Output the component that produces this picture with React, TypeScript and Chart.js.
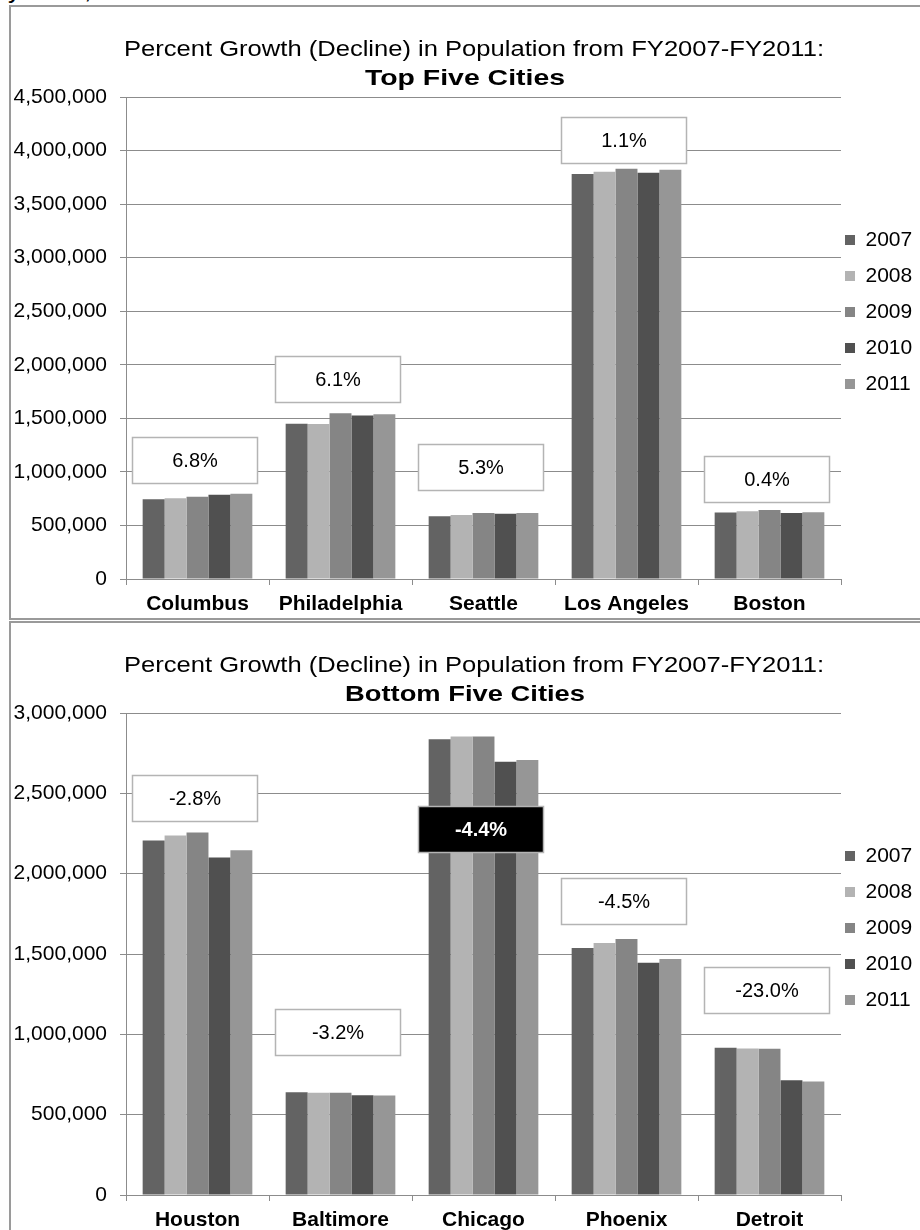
import React, { useEffect, useRef } from 'react';
import { Chart, registerables } from 'chart.js';

Chart.register(...registerables);

const FONT = "'Liberation Sans', Arial, sans-serif";
const GRID = '#8c8c8c';

const years = ['2007', '2008', '2009', '2010', '2011'];
const seriesColors = ['#636363', '#b3b3b3', '#858585', '#505050', '#969696'];

// Top five cities
const topCities = ['Columbus', 'Philadelphia', 'Seattle', 'Los Angeles', 'Boston'];
const top2007 = [745000, 1449000, 586000, 3780000, 620000];
const top2008 = [754000, 1447000, 598000, 3803000, 633000];
const top2009 = [769000, 1547000, 617000, 3831000, 645000];
const top2010 = [787000, 1526000, 609000, 3793000, 617000];
const top2011 = [797000, 1537000, 617000, 3820000, 623000];
const topGrowth = ['6.8%', '6.1%', '5.3%', '1.1%', '0.4%'];
const topGrowthLevel = [1111000, 1863000, 1050000, 4100000, 930000];
const topMax = 4500000;

// Bottom five cities
const bottomCities = ['Houston', 'Baltimore', 'Chicago', 'Phoenix', 'Detroit'];
const bottom2007 = [2207000, 640000, 2836000, 1538000, 917000];
const bottom2008 = [2238000, 637000, 2853000, 1568000, 912000];
const bottom2009 = [2257000, 637000, 2853000, 1593000, 910000];
const bottom2010 = [2100000, 621000, 2696000, 1446000, 714000];
const bottom2011 = [2145000, 619000, 2708000, 1469000, 706000];
const bottomGrowth = ['-2.8%', '-3.2%', '-4.4%', '-4.5%', '-23.0%'];
const bottomGrowthLevel = [2471000, 1014000, 2275000, 1830000, 1276000];
const bottomHighlight = 2;
const bottomMax = 3000000;

const titleLine1 = 'Percent Growth (Decline) in Population from FY2007-FY2011:';

const titlePlugin = {
  id: 'twoLineTitle',
  afterDraw(chart: any, _args: any, opts: any) {
    const ctx = chart.ctx;
    (opts.lines || []).forEach((line: any) => {
      ctx.save();
      ctx.font = `${line.bold ? 'bold ' : ''}${line.size}px ${FONT}`;
      const w = ctx.measureText(line.text).width;
      const sx = line.width ? line.width / w : 1;
      ctx.translate(line.x, line.y);
      ctx.scale(sx, 1);
      ctx.textAlign = 'center';
      ctx.textBaseline = 'middle';
      ctx.fillStyle = '#000';
      ctx.fillText(line.text, 0, 0);
      ctx.restore();
    });
  },
};

const boxPlugin = {
  id: 'growthBoxes',
  afterDatasetsDraw(chart: any, _args: any, opts: any) {
    const { ctx } = chart;
    const xs = chart.scales.x;
    const ys = chart.scales.y;
    const bw = 125;
    const bh = 46;
    (opts.labels || []).forEach((txt: string, i: number) => {
      const cx = xs.getPixelForValue(i) - 3;
      const cy = ys.getPixelForValue(opts.levels[i]);
      const hi = i === opts.highlight;
      const l = Math.round(cx - bw / 2) + 0.5;
      const t = Math.round(cy - bh / 2) + 0.5;
      ctx.save();
      ctx.fillStyle = hi ? '#000000' : '#ffffff';
      ctx.fillRect(l, t, bw, bh);
      ctx.strokeStyle = '#b4b4b4';
      ctx.lineWidth = 1.5;
      ctx.strokeRect(l, t, bw, bh);
      ctx.fillStyle = hi ? '#ffffff' : '#000000';
      ctx.font = `${hi ? 'bold ' : ''}20px ${FONT}`;
      ctx.textAlign = 'center';
      ctx.textBaseline = 'middle';
      ctx.fillText(txt, l + bw / 2, t + bh / 2 + 1);
      ctx.restore();
    });
  },
};

const LEGEND_PAD = 15;
const LEGEND_BOX_LEFT = 834;
const LEGEND_TOP = 207.5;

const legendShift = {
  id: 'legendShift',
  afterLayout(chart: any) {
    const lg = chart.legend;
    if (!lg) return;
    lg.left = LEGEND_BOX_LEFT - LEGEND_PAD;
    lg.right = chart.width;
    lg.top = LEGEND_TOP;
  },
};

type Props = {
  cities: string[];
  series: number[][];
  max: number;
  subtitle: string;
  subtitleWidth: number;
  growth: string[];
  levels: number[];
  highlight: number;
};

function BarPanel(p: Props) {
  const ref = useRef<HTMLCanvasElement | null>(null);
  useEffect(() => {
    if (!ref.current) return;
    const chart = new Chart(ref.current, {
      type: 'bar',
      data: {
        labels: p.cities,
        datasets: years.map((yr, i) => ({
          label: yr,
          data: p.series[i],
          backgroundColor: seriesColors[i],
          borderWidth: 0,
          categoryPercentage: 0.767,
          barPercentage: 1.0,
        })),
      },
      options: {
        animation: false,
        responsive: false,
        devicePixelRatio: 1,
        layout: { padding: { top: 90, left: 0, right: 0, bottom: 0 } },
        scales: {
          x: {
            grid: { display: true, drawOnChartArea: false, drawTicks: true, tickLength: 6, color: GRID, offset: true },
            border: { display: true, color: GRID, width: 1 },
            ticks: {
              color: '#000',
              font: { family: FONT, size: 21, weight: 'bold' },
              padding: 7,
              maxRotation: 0,
              autoSkip: false,
            },
            afterFit: (s: any) => {
              s.height = 38;
            },
          },
          y: {
            min: 0,
            max: p.max,
            ticks: {
              stepSize: 500000,
              color: '#000',
              font: { family: FONT, size: 21 },
              padding: 13,
              callback: (v: any) => Number(v).toLocaleString('en-US'),
            },
            grid: { color: GRID, lineWidth: 1, tickLength: 6, drawTicks: true },
            border: { display: true, color: GRID, width: 1 },
            afterFit: (s: any) => {
              s.width = 115;
            },
          },
        },
        plugins: {
          legend: {
            position: 'right',
            align: 'start',
            maxWidth: 76,
            labels: {
              boxWidth: 10,
              boxHeight: 10,
              padding: LEGEND_PAD,
              color: '#000',
              font: { family: FONT, size: 21 },
            },
          },
          tooltip: { enabled: false },
          title: { display: false },
          twoLineTitle: {
            lines: [
              { text: titleLine1, size: 22, bold: false, x: 463, y: 43, width: 700 },
              { text: p.subtitle, size: 22, bold: true, x: 454, y: 72, width: p.subtitleWidth },
            ],
          },
          growthBoxes: { labels: p.growth, levels: p.levels, highlight: p.highlight },
        } as any,
      },
      plugins: [titlePlugin, boxPlugin, legendShift],
    } as any);
    return () => chart.destroy();
  }, []);
  return <canvas ref={ref} width={906} height={610} style={{ display: 'block' }} />;
}

export default function App() {
  const frame: React.CSSProperties = {
    position: 'absolute',
    left: 9,
    width: 913,
    height: 615,
    boxSizing: 'border-box',
    border: '2px solid #9a9a9a',
    background: '#fff',
    overflow: 'hidden',
  };
  return (
    <div
      style={{
        position: 'absolute',
        left: 0,
        top: 0,
        width: 920,
        height: 1230,
        overflow: 'hidden',
        background: '#fff',
      }}
    >
      <div
        style={{
          position: 'absolute',
          left: 8,
          top: -24,
          fontFamily: FONT,
          fontSize: 26,
          lineHeight: '26px',
          whiteSpace: 'nowrap',
          color: '#000',
        }}
      >
        y 2011,
      </div>
      <div style={{ ...frame, top: 5 }}>
        <BarPanel
          cities={topCities}
          series={[top2007, top2008, top2009, top2010, top2011]}
          max={topMax}
          subtitle="Top Five Cities"
          subtitleWidth={200}
          growth={topGrowth}
          levels={topGrowthLevel}
          highlight={-1}
        />
      </div>
      <div style={{ ...frame, top: 621 }}>
        <BarPanel
          cities={bottomCities}
          series={[bottom2007, bottom2008, bottom2009, bottom2010, bottom2011]}
          max={bottomMax}
          subtitle="Bottom Five Cities"
          subtitleWidth={240}
          growth={bottomGrowth}
          levels={bottomGrowthLevel}
          highlight={bottomHighlight}
        />
      </div>
    </div>
  );
}
